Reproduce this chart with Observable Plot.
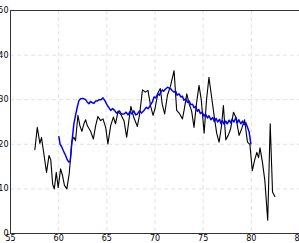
<!DOCTYPE html>
<html>
<head>
<meta charset="utf-8">
<script src="https://cdn.jsdelivr.net/npm/d3@7"></script>
<script src="https://cdn.jsdelivr.net/npm/@observablehq/plot@0.6"></script>
<style>
html, body { margin: 0; padding: 0; background: #fff; overflow: hidden; }
#chart svg { display: block; }
</style>
</head>
<body>
<div id="chart"></div>
<script>
const xTicks = [55, 60, 65, 70, 75, 80, 85];
const yTicks = [0, 10, 20, 30, 40, 50];

const blackX = [57.53,57.78,58.05,58.22,58.42,58.74,59.0,59.18,59.38,59.55,59.75,59.95,60.2,60.4,60.6,60.85,61.1,61.38,61.58,61.75,62.0,62.2,62.41,62.62,62.8,62.97,63.3,63.6,63.84,64.07,64.36,64.6,64.88,65.11,65.4,65.68,65.9,66.15,66.43,66.78,67.06,67.3,67.5,67.8,68.17,68.41,68.7,69.0,69.27,69.55,69.8,70.0,70.3,70.55,70.75,71.0,71.29,71.6,71.98,72.25,72.5,72.85,73.05,73.3,73.55,73.8,74.05,74.3,74.57,74.8,75.1,75.35,75.6,75.85,76.1,76.4,76.65,76.9,77.1,77.35,77.6,77.85,78.15,78.4,78.73,79.0,79.3,79.6,79.85,80.1,80.35,80.57,80.75,80.9,81.15,81.4,81.7,81.96,82.2,82.44];
const blackY = [18.8,23.8,20.2,21.5,18.5,13.7,17.5,16.5,11.0,10.0,13.7,10.3,14.5,13.0,10.8,10.0,13.5,20.8,21.6,20.8,26.5,24.2,22.9,24.6,25.5,24.2,23.0,21.2,24.2,26.2,25.3,25.7,23.8,20.1,24.2,26.1,24.6,27.2,26.8,25.3,21.6,25.5,28.5,26.0,24.0,26.8,32.2,31.7,32.1,28.5,26.5,28.0,31.5,32.5,29.0,26.8,31.0,33.0,36.5,27.6,27.0,25.7,28.0,31.3,29.0,27.5,23.8,29.0,33.2,30.0,22.5,30.0,35.0,31.0,27.0,22.5,20.5,24.0,28.7,21.0,22.0,23.5,27.2,26.0,22.0,23.5,25.5,20.5,20.0,14.1,16.5,18.2,17.0,19.2,16.0,11.9,3.0,24.6,9.3,8.3];

const blueX = [60.02,60.15,60.3,60.5,60.72,60.9,61.06,61.2,61.35,61.58,61.75,61.93,62.1,62.28,62.45,62.62,62.8,62.95,63.14,63.3,63.5,63.66,63.85,64.0,64.2,64.4,64.6,64.8,65.05,65.2,65.4,65.6,65.8,66.0,66.1,66.3,66.5,66.78,67.0,67.2,67.4,67.6,67.8,68.0,68.17,68.4,68.6,68.86,69.1,69.3,69.55,69.75,69.9,70.07,70.3,70.45,70.6,70.77,70.9,71.1,71.3,71.46,71.65,71.8,71.98,72.15,72.3,72.5,72.7,72.85,73.0,73.2,73.37,73.55,73.7,73.9,74.05,74.2,74.4,74.55,74.7,74.9,75.1,75.25,75.45,75.6,75.8,76.0,76.15,76.35,76.5,76.7,76.85,77.0,77.17,77.35,77.5,77.7,77.87,78.0,78.2,78.4,78.55,78.7,78.9,79.08,79.25,79.43,79.6,79.77,79.95];
const blueY = [21.7,20.0,19.5,18.5,17.5,16.5,16.0,16.2,20.0,24.6,26.5,28.3,29.8,30.2,30.3,30.2,30.0,29.5,29.1,29.6,29.3,29.2,29.7,29.7,30.0,30.0,30.4,29.8,28.7,28.3,27.6,28.0,27.6,27.0,27.2,27.5,26.8,26.8,27.2,26.6,27.3,26.8,27.5,26.6,26.8,27.5,27.0,27.6,28.3,28.0,28.9,29.6,30.6,30.4,31.3,31.0,31.7,32.2,31.9,32.4,32.8,32.6,32.4,32.0,31.7,31.9,31.0,31.3,30.6,30.8,29.9,30.2,29.4,29.7,28.9,29.0,28.2,28.5,27.4,27.8,26.9,27.2,26.3,26.8,25.9,26.4,25.5,26.0,25.1,25.8,25.0,25.6,24.6,25.3,24.5,25.2,24.6,25.4,24.8,25.6,25.0,26.0,24.8,25.5,24.6,25.2,24.4,24.8,23.8,22.8,20.1];

const black = blackX.map((x, i) => ({x, y: blackY[i]}));
const blue = blueX.map((x, i) => ({x, y: blueY[i]}));

const chart = Plot.plot({
  width: 299,
  height: 243,
  marginLeft: 10,
  marginRight: 0,
  marginTop: 10,
  marginBottom: 10,
  style: {fontFamily: "DejaVu Sans", fontSize: "8px", background: "#fff", overflow: "visible"},
  x: {domain: [55, 85]},
  y: {domain: [0, 50]},
  marks: [
    Plot.gridX(xTicks, {stroke: "#e2e2e2", strokeOpacity: 1, strokeDasharray: "4,3"}),
    Plot.gridY(yTicks, {stroke: "#e2e2e2", strokeOpacity: 1, strokeDasharray: "4,3"}),
    Plot.line(black, {x: "x", y: "y", stroke: "#000", strokeWidth: 1.1}),
    Plot.line(blue, {x: "x", y: "y", stroke: "#0000ff", strokeWidth: 1.5}),
    Plot.frame({stroke: "#333", strokeWidth: 1}),
    Plot.axisX(xTicks, {tickSize: 0, tickPadding: 2, fill: "#000", label: null, fontSize: 8}),
    Plot.axisY(yTicks, {tickSize: 0, tickPadding: 2, fill: "#000", label: null, fontSize: 8})
  ]
});
document.getElementById("chart").appendChild(chart);
</script>
</body>
</html>
